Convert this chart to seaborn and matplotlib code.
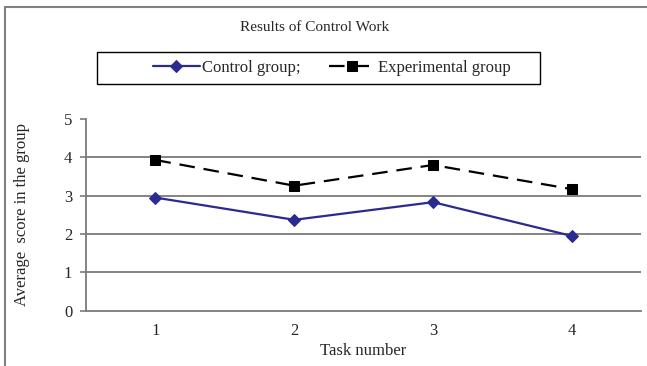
import numpy as np
import pandas as pd
import seaborn as sns
import matplotlib.pyplot as plt
from matplotlib.patches import Rectangle

tasks = [1, 2, 3, 4]
control = [2.95, 2.37, 2.83, 1.95]
experimental = [3.93, 3.26, 3.80, 3.17]

sns.set_style("white")
plt.rcParams['font.family'] = ['Liberation Serif', 'DejaVu Serif']

fig = plt.figure(figsize=(6.47, 3.66), dpi=100)
ax = fig.add_axes([0.133, 0.151, 0.858, 0.524])

for y in [1, 2, 3, 4]:
    ax.axhline(y, color='#7a7a7a', lw=1.3, zorder=1)

df = pd.DataFrame({'Task': tasks, 'Control': control, 'Experimental': experimental})

sns.lineplot(data=df, x='Task', y='Control', ax=ax, color='#2b2a8f', lw=1.6,
             marker='D', markersize=6, markeredgecolor='#2b2a8f',
             label='Control group;', zorder=3)
sns.lineplot(data=df, x='Task', y='Experimental', ax=ax, color='black', lw=1.6,
             marker='s', markersize=7, markeredgecolor='black',
             linestyle=(0, (7, 4)), label='Experimental group', zorder=3)

ax.set_xlim(0.5, 4.5)
ax.set_ylim(0, 5)
ax.set_yticks([0, 1, 2, 3, 4, 5])
ax.set_xticks(tasks)
ax.set_xticks([0.5, 1.5, 2.5, 3.5, 4.5], minor=True)
ax.tick_params(axis='x', which='major', length=0, pad=9, labelsize=12)
ax.tick_params(axis='x', which='minor', length=4, width=1.2, color='#7a7a7a', direction='out')
ax.tick_params(axis='y', length=4, width=1.2, color='#7a7a7a', direction='out', labelsize=12, pad=6)
ax.tick_params(axis='both', bottom=True, left=True)

for s in ['top', 'right']:
    ax.spines[s].set_visible(False)
for s in ['left', 'bottom']:
    ax.spines[s].set_color('#7a7a7a')
    ax.spines[s].set_linewidth(1.3)

ax.set_xlabel('Task number', fontsize=12, labelpad=3)
ax.set_ylabel('Average  score in the group', fontsize=12, labelpad=24)

fig.text(0.487, 0.925, 'Results of Control Work', ha='center', va='center', fontsize=11)

# legend without its own frame, box drawn separately
ax.legend(loc='center', bbox_to_anchor=(332 / 647, 1 - 68 / 366), bbox_transform=fig.transFigure,
          ncol=2, frameon=False, fontsize=12, handlelength=2.8, handletextpad=0.15,
          columnspacing=1.7, borderpad=0, borderaxespad=0)
fig.add_artist(Rectangle((97 / 647, 1 - 84 / 366), 443 / 647, 32 / 366, transform=fig.transFigure,
                         fill=False, edgecolor='black', lw=1.0))

fig.add_artist(Rectangle((5 / 647, -0.1), 1.2, 1 - 7 / 366 + 0.1, transform=fig.transFigure,
                         fill=False, edgecolor='#808080', lw=1.5))

plt.savefig('out.png', dpi=100)
